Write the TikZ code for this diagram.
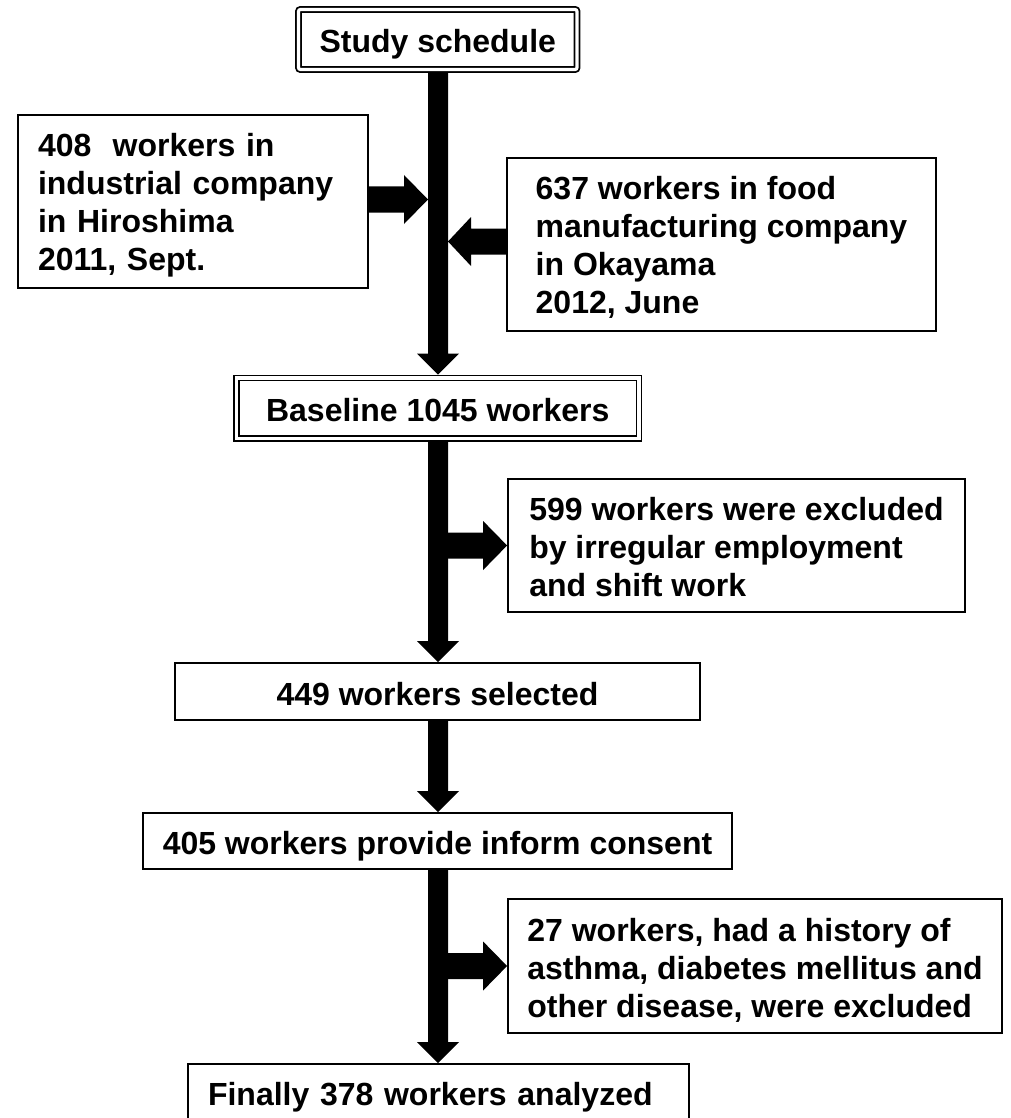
\documentclass[tikz,border=0pt]{standalone}
\usepackage{fontspec}
\setmainfont{Liberation Sans}
\usetikzlibrary{calc}
\newcommand\tstrut[1]{\rule{0pt}{#1pt}}
\newcommand\bstrut[1]{\rule[-#1pt]{0pt}{#1pt}}
% vertical block arrow from node #1 (south) to node #2 (north) along the spine
\newcommand\varrow[2]{%
  \fill let \p1=(spine |- #1.south), \p2=(spine |- #2.north) in
    (\x1-10pt,\y1) -- (\x1+10pt,\y1) -- (\x1+10pt,\y2+21pt) -- (\x1+21pt,\y2+21pt)
    -- (\x2,\y2) -- (\x1-21pt,\y2+21pt) -- (\x1-10pt,\y2+21pt) -- cycle;}
% right-pointing block arrow, tip at #2
\newcommand\rarrow[2]{%
  \fill let \p1=(#1), \p2=(#2) in
    (\x1,\y1+13pt) -- (\x2-24pt,\y1+13pt) -- (\x2-24pt,\y1+24.5pt) -- (\x2,\y1)
    -- (\x2-24pt,\y1-24.5pt) -- (\x2-24pt,\y1-13pt) -- (\x1,\y1-13pt) -- cycle;}
% left-pointing block arrow, tip at #2
\newcommand\larrow[2]{%
  \fill let \p1=(#1), \p2=(#2) in
    (\x1,\y1+13pt) -- (\x2+23pt,\y1+13pt) -- (\x2+23pt,\y1+24.5pt) -- (\x2,\y1)
    -- (\x2+23pt,\y1-24.5pt) -- (\x2+23pt,\y1-13pt) -- (\x1,\y1-13pt) -- cycle;}
\tikzset{
  box/.style={draw, line width=1.8pt, inner sep=0pt, outer sep=0.9pt,
    font=\fontsize{32}{38}\selectfont\bfseries},
  onel/.style={box, text height=34pt, text depth=7pt},
  dbl/.style={onel, double, double distance=3.2pt, outer sep=3.4pt},
  multi/.style={box, align=left},
}
\begin{document}
\begin{tikzpicture}[x=1pt,y=-1pt]
\useasboundingbox (0,0) rectangle (1010,1118);
\clip (0,0) rectangle (1010,1118);
\coordinate (spine) at (438,0);

\node[dbl, rounded corners=2pt, minimum width=278.5pt, minimum height=60pt] (study) at (437.75,39.5) {Study schedule};
\node[multi, text width=310pt, minimum width=350pt, minimum height=173pt] (L) at (193,201.5)
  {\tstrut{33}408~~workers in\\industrial company\\in Hiroshima\\2011, Sept.\bstrut{8}};
\node[multi, minimum width=429pt, minimum height=173pt] (R) at (721.5,244.5)
  {\tstrut{31}637 workers in food\\manufacturing company\\in Okayama\\2012, June\bstrut{8}};
\node[dbl, minimum width=402.5pt, minimum height=60.5pt] (base) at (437.75,408.25) {Baseline 1045 workers};
\node[multi, minimum width=457pt, minimum height=133pt] (ex1) at (736.5,545.5)
  {\tstrut{33}599 workers were excluded\\by irregular employment\\and shift work\bstrut{8}};
\node[onel, minimum width=525pt, minimum height=57pt] (sel) at (437.5,691.5) {449 workers selected};
\node[onel, minimum width=589pt, minimum height=56pt] (cons) at (437.5,841) {405 workers provide inform consent};
\node[multi, minimum width=494pt, minimum height=134pt] (ex2) at (755,966)
  {\tstrut{35.4}27 workers, had a history of\\asthma, diabetes mellitus and\\other disease, were excluded\bstrut{8}};
\node[onel, text width=461pt, align=left, minimum width=501pt, minimum height=55pt] (fin) at (438.5,1091.5) {Finally 378 workers analyzed};

\varrow{study}{base}
\varrow{base}{sel}
\varrow{sel}{cons}
\varrow{cons}{fin}

\rarrow{$(L.east)+(0,-2)$}{$(spine |- L.east)+(-10,-2)$}
\larrow{$(R.west)+(0,-3)$}{$(spine |- R.west)+(10,-3)$}
\rarrow{$(spine |- ex1.west)+(8,0)$}{ex1.west}
\rarrow{$(spine |- ex2.west)+(8,0)$}{ex2.west}
\end{tikzpicture}
\end{document}
